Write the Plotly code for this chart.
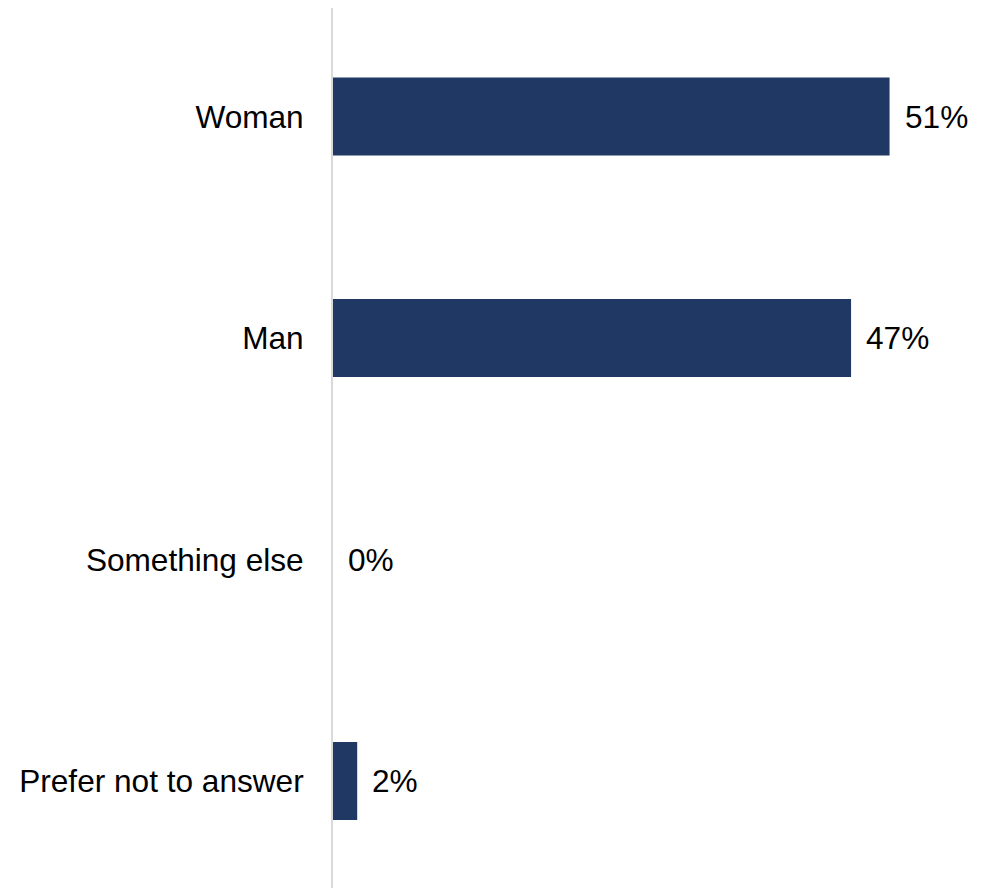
import plotly.graph_objects as go

categories = ["Woman", "Man", "Something else", "Prefer not to answer"]
values = [50.6, 47.1, 0.0, 2.2]
labels = ["51%", "47%", "0%", "2%"]

BAR_COLOR = "#1f3864"
FONT = "Liberation Sans, Arial, sans-serif"
FS = 31.6

fig = go.Figure()
fig.add_trace(go.Bar(
    y=categories,
    x=values,
    orientation="h",
    width=0.352,
    marker=dict(color=BAR_COLOR, line=dict(width=0)),
    hoverinfo="skip",
))

for cat, val, lab in zip(categories, values, labels):
    fig.add_annotation(
        x=val, y=cat, text=lab, showarrow=False,
        xanchor="left", yanchor="middle", xshift=13,
        font=dict(family=FONT, size=FS, color="#000000"),
    )

fig.update_layout(
    width=991, height=888,
    margin=dict(l=325, r=0, t=0, b=0, autoexpand=False),
    paper_bgcolor="white", plot_bgcolor="white",
    showlegend=False,
    font=dict(family=FONT, size=FS, color="#000000"),
    xaxis=dict(range=[0, 60.55], visible=False, fixedrange=True),
    yaxis=dict(
        type="category",
        categoryorder="array", categoryarray=categories,
        range=[3.519, -0.4898],
        showline=True, linecolor="#d9d9d9", linewidth=2,
        showgrid=False, zeroline=False, ticks="",
        ticklabelstandoff=21,
        automargin=False,
        tickfont=dict(family=FONT, size=FS, color="#000000"),
        fixedrange=True,
    ),
)

fig.write_html("out.html")
